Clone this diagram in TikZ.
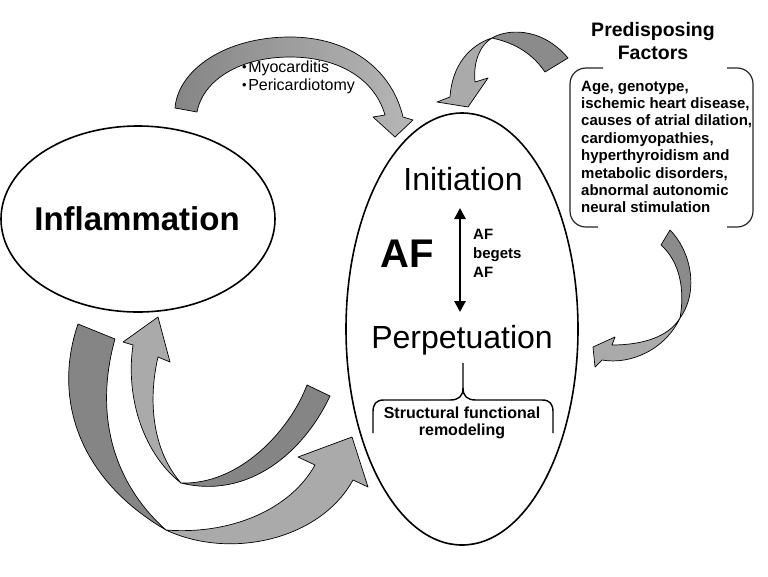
\documentclass[tikz,border=0pt]{standalone}
\usepackage{fontspec}
\setmainfont{Liberation Sans}
\usetikzlibrary{arrows.meta,shapes.geometric}
\definecolor{darkg}{HTML}{858585}
\definecolor{lightg}{HTML}{AAAAAA}
\newcommand\setfs[2]{\fontsize{#1}{#2}\selectfont}
\newcommand\smbullet{\raisebox{0.5pt}{\setfs{13}{13}•}\kern1.5pt}
\tikzset{
  ribbon/.style={draw=black,line width=0.7pt,line join=round},
  bigell/.style={ellipse,draw=black,line width=1.6pt,inner sep=0pt},
  bracketline/.style={draw=black!85,line width=1.2pt},
  bracepath/.style={draw=black,line width=1.4pt,line join=round},
}
\begin{document}
\begin{tikzpicture}[x=1pt,y=-1pt]
\useasboundingbox (0,0) rectangle (768,576);
\fill[white] (0,0) rectangle (768,576);

% ---------- ellipses ----------
\node[bigell,minimum width=274pt,minimum height=186pt] (inflell) at (138,219) {};
\node[font=\bfseries\setfs{33}{36}] (infl) at (137,219) {Inflammation};
\node[bigell,minimum width=232pt,minimum height=432pt] (afell) at (462,329) {};

% ---------- AF ellipse contents ----------
\node[anchor=base,font=\setfs{32}{36}] (init) at (463,190) {Initiation};
\node[anchor=base,font=\setfs{32}{36}] (perp) at (462,348) {Perpetuation};
\node[anchor=base,font=\bfseries\setfs{40}{44}] (af) at (407,267) {AF};
\node[anchor=north west,align=left,inner sep=0pt,font=\bfseries\setfs{15}{19}] (beget) at (473,225.7) {\strut AF\\\strut begets\\\strut AF};
\coordinate (atop) at (460,208);
\coordinate (abot) at (460,312);
\draw[line width=2.8pt,{Triangle[length=11pt,width=11pt]}-{Triangle[length=11pt,width=11pt]}] (atop) -- (abot);

% brace
\draw[bracepath] (373,433) -- (373,412) .. controls (373,404) and (376,400) .. (384,400) -- (450,400) .. controls (459,400) and (463,396) .. (463,388) -- (463,363);
\draw[bracepath] (553,433) -- (553,412) .. controls (553,404) and (550,400) .. (542,400) -- (476,400) .. controls (467,400) and (463,396) .. (463,388);
\node[anchor=north,align=center,inner sep=0pt,font=\bfseries\setfs{16}{17}] (remod) at (462,406.1) {\strut Structural functional\\\strut remodeling};

% ---------- predisposing factors ----------
\node[anchor=north,align=center,inner sep=0pt,font=\bfseries\setfs{19.5}{23}] (ptitle) at (653,19.9) {\strut Predisposing\\\strut Factors};
\draw[bracketline] (603,68) -- (586,68) .. controls (577,68) and (570,75) .. (570,84) -- (570,211) .. controls (570,220) and (577,227) .. (586,227) -- (598,227);
\draw[bracketline] (727,68) -- (737,68) .. controls (746,68) and (753,75) .. (753,84) -- (753,211) .. controls (753,220) and (746,227) .. (737,227) -- (727,227);
\node[anchor=north west,align=left,inner sep=0pt,font=\bfseries\setfs{15}{17.4}] (ptext) at (581,78.8) {\strut Age, genotype,\\\strut ischemic heart disease,\\\strut causes of atrial dilation,\\\strut cardiomyopathies,\\\strut hyperthyroidism and\\\strut metabolic disorders,\\\strut abnormal autonomic\\\strut neural stimulation};

% ---------- myocarditis labels ----------
\node[anchor=base west,inner sep=0pt,font=\setfs{16}{18}] (myo) at (242,72) {\smbullet Myocarditis};
\node[anchor=base west,inner sep=0pt,font=\setfs{16}{18}] (peri) at (242,90) {\smbullet Pericardiotomy};

% ---------- block arrows ----------
% top arrow (Inflammation -> AF)
\shade[ribbon,left color=darkg,right color=lightg!85!white]
 (175,108) .. controls (178,70) and (225,37) .. (290,37)
 .. controls (350,37) and (392,70) .. (403,117)
 -- (413,120) -- (395,137) -- (373,117) -- (385,115)
 .. controls (375,80) and (340,57) .. (290,57)
 .. controls (240,57) and (203,80) .. (197,112) -- cycle;

% predisposing top arrow
\fill[ribbon,fill=darkg!95!white]
 (492,38) .. controls (505,30) and (540,25) .. (568,58) -- (545,72)
 .. controls (530,50) and (510,42) .. (492,38) -- cycle;
\fill[ribbon,fill=lightg]
 (492,38) .. controls (470,45) and (452,65) .. (450,97) -- (437,102) -- (468,107) -- (488,78) -- (475,82)
 .. controls (473,62) and (480,45) .. (492,38) -- cycle;

% predisposing right arrow
\fill[ribbon,fill=darkg!95!white]
 (670,230) .. controls (690,250) and (700,290) .. (680,318)
 .. controls (685,290) and (680,262) .. (661,245) -- cycle;
\fill[ribbon,fill=lightg]
 (680,318) .. controls (665,350) and (630,365) .. (602,360) -- (595,367) -- (593,347) -- (615,337) -- (612,345)
 .. controls (640,345) and (668,338) .. (680,318) -- cycle;

% outer bottom arrow (Inflammation -> AF)
\fill[ribbon,fill=darkg]
 (78,324) .. controls (52,400) and (80,480) .. (166,530)
 .. controls (110,480) and (95,410) .. (115,339) -- cycle;
\fill[ribbon,fill=lightg]
 (166,530) .. controls (230,560) and (320,540) .. (353,480) -- (368,487) -- (352,437) -- (298,457) -- (315,465)
 .. controls (290,510) and (230,535) .. (166,530) -- cycle;

% inner bottom arrow (AF -> Inflammation)
\fill[ribbon,fill=lightg]
 (133,345) -- (123,342) -- (158,317) -- (170,362) -- (158,357)
 .. controls (148,400) and (152,450) .. (181,483)
 .. controls (145,455) and (125,400) .. (133,345) -- cycle;
\fill[ribbon,fill=darkg]
 (181,483) .. controls (240,485) and (290,430) .. (307,385) -- (330,396)
 .. controls (305,450) and (250,500) .. (181,483) -- cycle;
\end{tikzpicture}
\end{document}
